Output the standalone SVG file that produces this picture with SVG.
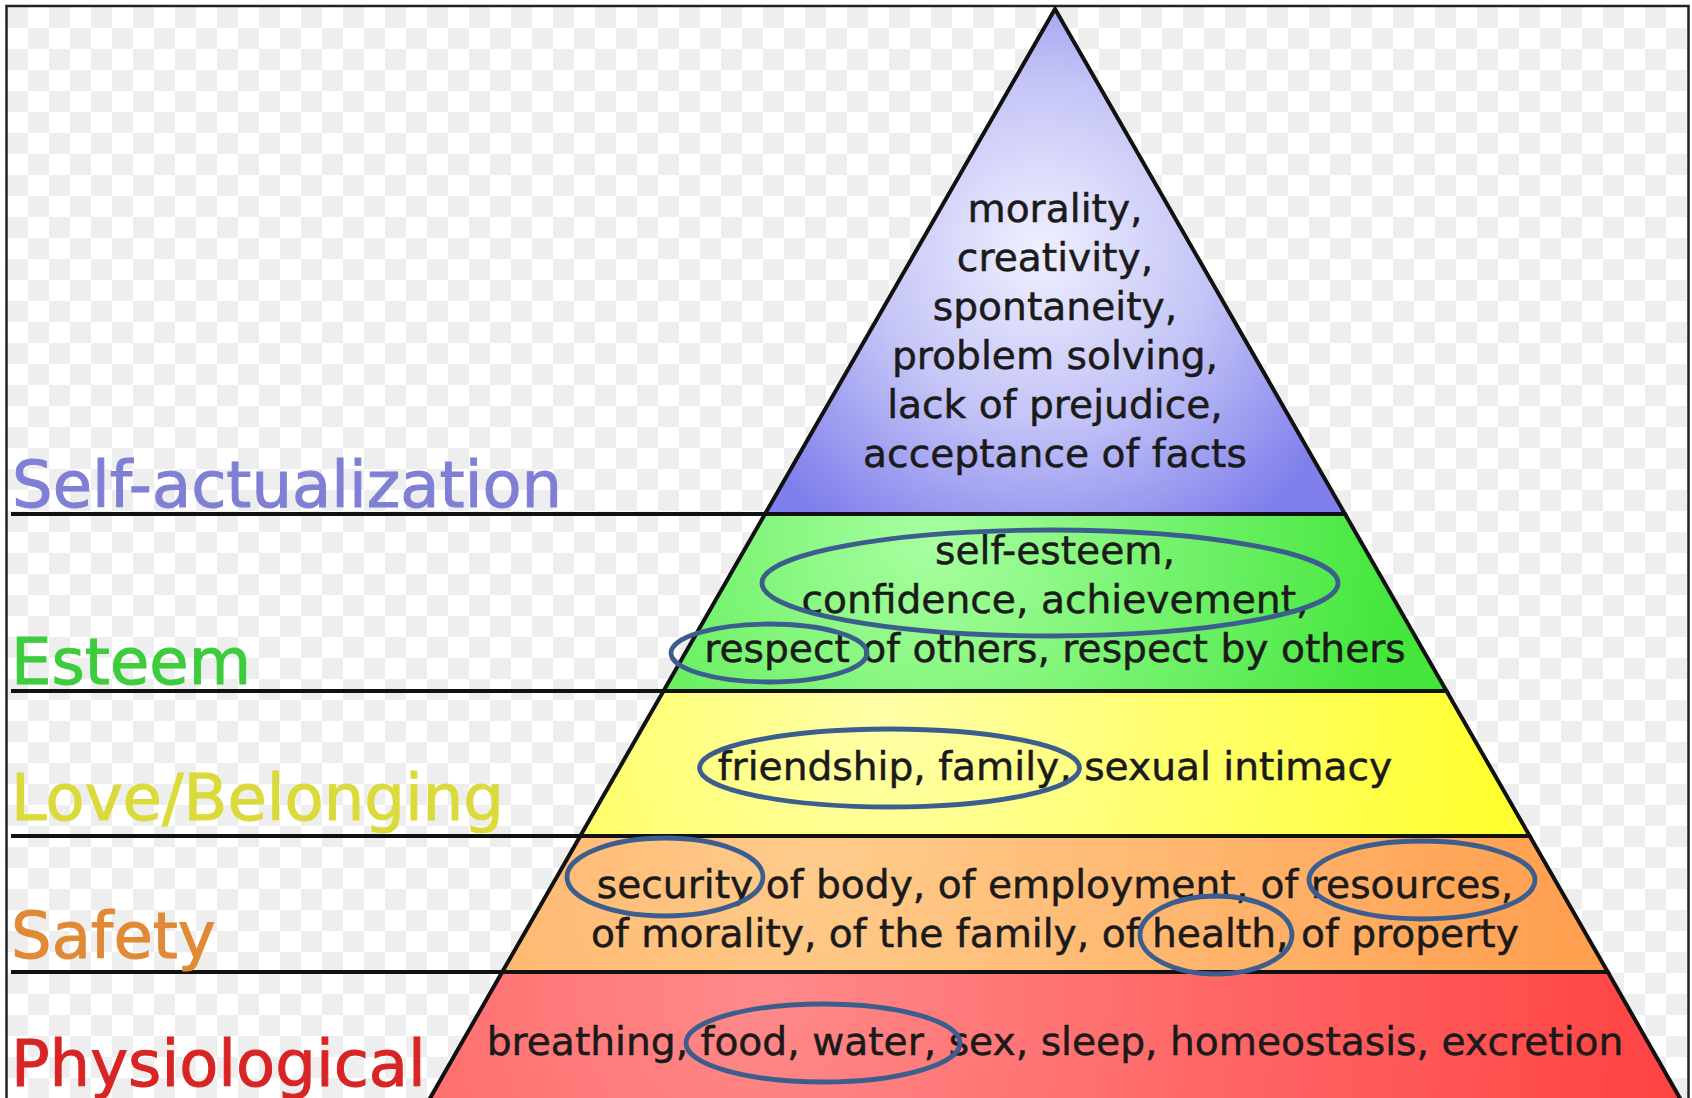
<svg xmlns="http://www.w3.org/2000/svg" width="1692" height="1098" viewBox="0 0 1692 1098">
<defs>
<pattern id="checker" x="7" y="7" width="42" height="42" patternUnits="userSpaceOnUse">
<rect width="42" height="42" fill="#ffffff"/>
<rect x="0" y="0" width="21" height="21" fill="#eeeeee"/>
<rect x="21" y="21" width="21" height="21" fill="#eeeeee"/>
</pattern>
<radialGradient id="gSelf" gradientUnits="userSpaceOnUse" cx="1040" cy="250" r="340">
<stop offset="0" stop-color="#f0f0ff"/>
<stop offset="0.5" stop-color="#c4c4f7"/>
<stop offset="1" stop-color="#8080ec"/>
</radialGradient>
<radialGradient id="gEsteem" gradientUnits="userSpaceOnUse" cx="930" cy="540" r="470">
<stop offset="0" stop-color="#a8ffa0"/>
<stop offset="1" stop-color="#44e63c"/>
</radialGradient>
<radialGradient id="gLove" gradientUnits="userSpaceOnUse" cx="880" cy="720" r="620">
<stop offset="0" stop-color="#ffffa8"/>
<stop offset="1" stop-color="#ffff30"/>
</radialGradient>
<radialGradient id="gSafety" gradientUnits="userSpaceOnUse" cx="820" cy="850" r="760">
<stop offset="0" stop-color="#ffcc8c"/>
<stop offset="1" stop-color="#ff9f50"/>
</radialGradient>
<radialGradient id="gPhys" gradientUnits="userSpaceOnUse" cx="760" cy="990" r="950">
<stop offset="0" stop-color="#ff8a8a"/>
<stop offset="1" stop-color="#ff4040"/>
</radialGradient>
<style>
.tier { stroke: #111; stroke-width: 4; stroke-linejoin: miter; }
.guide { stroke: #111; stroke-width: 4; fill: none; }
.label { font-family: "DejaVu Sans", Verdana, sans-serif; font-size: 64px; stroke-width: 1; }
.body { font-family: "DejaVu Sans", Verdana, sans-serif; font-size: 39.2px; fill: #1a1a1a; stroke: #1a1a1a; stroke-width: 0.5; text-anchor: middle; }
.ring { fill: none; stroke: #3c5e8e; stroke-width: 4.8; }
</style>
</defs>

<rect x="7" y="7" width="1681" height="1091" fill="url(#checker)"/>
<path d="M6.5,1100 V6 H1688.5 V1100" fill="none" stroke="#222" stroke-width="2.5"/>

<g id="connectors">
<line class="guide" x1="11" y1="514" x2="766" y2="514"/>
<line class="guide" x1="11" y1="691" x2="664" y2="691"/>
<line class="guide" x1="11" y1="836" x2="581" y2="836"/>
<line class="guide" x1="11" y1="972" x2="503" y2="972"/>
</g>

<g id="tier-physiological">
<polygon class="tier" points="502.2,972 1607.8,972 1689,1114 421,1114" fill="url(#gPhys)"/>
<text class="label" x="11" y="1086" fill="#d82424" stroke="#d82424">Physiological</text>
<text class="body" x="1055" y="1055">breathing, food, water, sex, sleep, homeostasis, excretion</text>
</g>

<g id="tier-safety">
<polygon class="tier" points="580.3,836 1529.7,836 1607.8,972 502.2,972" fill="url(#gSafety)"/>
<text class="label" x="11" y="958" fill="#e08a36" stroke="#e08a36">Safety</text>
<text class="body" x="1055" y="898">security of body, of employment, of resources,</text>
<text class="body" x="1055" y="947">of morality, of the family, of health, of property</text>
</g>

<g id="tier-love">
<polygon class="tier" points="663.5,691 1446.5,691 1529.7,836 580.3,836" fill="url(#gLove)"/>
<text class="label" x="11" y="820" fill="#dada3a" stroke="#dada3a">Love/Belonging</text>
<text class="body" x="1055" y="780">friendship, family, sexual intimacy</text>
</g>

<g id="tier-esteem">
<polygon class="tier" points="765,514 1345,514 1446.5,691 663.5,691" fill="url(#gEsteem)"/>
<text class="label" x="11" y="684" fill="#3ccc3c" stroke="#3ccc3c">Esteem</text>
<text class="body" x="1055" y="564">self-esteem,</text>
<text class="body" x="1055" y="613">confidence, achievement,</text>
<text class="body" x="1055" y="662">respect of others, respect by others</text>
</g>

<g id="tier-self-actualization">
<polygon class="tier" points="1055,9 1345,514 765,514" fill="url(#gSelf)"/>
<text class="label" x="12" y="507" fill="#7f7fd6" stroke="#7f7fd6">Self-actualization</text>
<text class="body" x="1055" y="222">morality,</text>
<text class="body" x="1055" y="271">creativity,</text>
<text class="body" x="1055" y="320">spontaneity,</text>
<text class="body" x="1055" y="369">problem solving,</text>
<text class="body" x="1055" y="418">lack of prejudice,</text>
<text class="body" x="1055" y="467">acceptance of facts</text>
</g>

<g id="highlights">
<ellipse class="ring" cx="1050" cy="583" rx="288" ry="53"/>
<ellipse class="ring" cx="769" cy="653" rx="98" ry="29"/>
<ellipse class="ring" cx="889.5" cy="768" rx="190" ry="39"/>
<ellipse class="ring" cx="665" cy="877" rx="98" ry="39"/>
<ellipse class="ring" cx="1422" cy="880" rx="113" ry="39"/>
<ellipse class="ring" cx="1216" cy="935" rx="76" ry="39"/>
<ellipse class="ring" cx="823" cy="1043" rx="137" ry="39"/>
</g>
</svg>
